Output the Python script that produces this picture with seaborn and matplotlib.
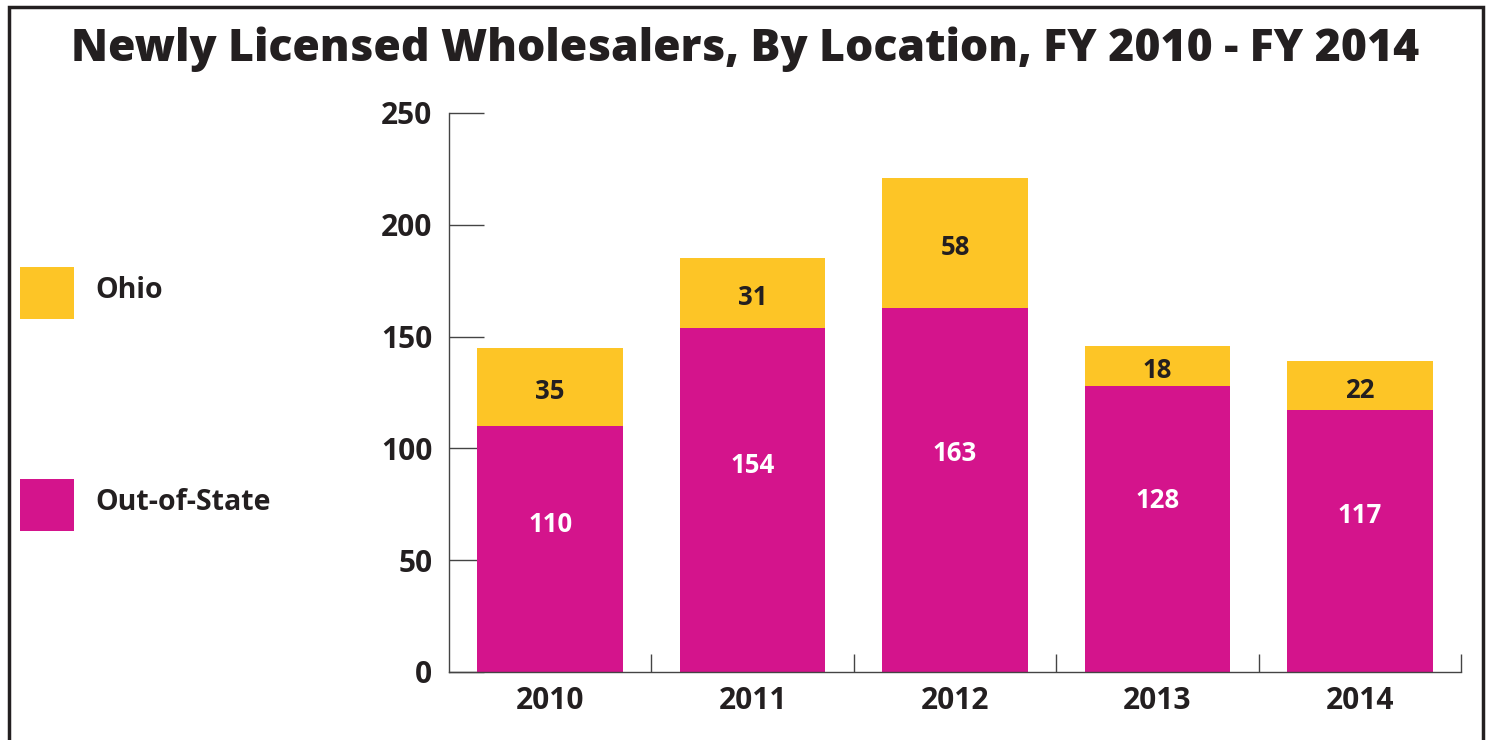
import matplotlib
matplotlib.use("Agg")
import matplotlib.pyplot as plt
from matplotlib.patches import Rectangle
import seaborn as sns
import pandas as pd

# Datos
years = ["2010", "2011", "2012", "2013", "2014"]
out_of_state = [110, 154, 163, 128, 117]
ohio = [35, 31, 58, 18, 22]

yellow = "#fdc526"
magenta = "#d4148c"
dark = "#231f20"

totals = [a + b for a, b in zip(out_of_state, ohio)]
df = pd.DataFrame({"Year": years, "Out-of-State": out_of_state,
                   "Ohio": ohio, "Total": totals})

sns.set_style("white")
plt.rcParams["font.family"] = ["Open Sans", "DejaVu Sans"]
plt.rcParams["font.weight"] = "bold"

fig = plt.figure(figsize=(14.91, 7.40), dpi=100)
ax = fig.add_axes([0.3011, 0.0919, 0.6788, 0.7554])

# barras apiladas: total (Ohio arriba) y luego fuera del estado
sns.barplot(data=df, x="Year", y="Total", color=yellow, width=0.72,
            saturation=1, linewidth=0, ax=ax)
sns.barplot(data=df, x="Year", y="Out-of-State", color=magenta, width=0.72,
            saturation=1, linewidth=0, ax=ax)

for i in range(len(years)):
    ax.text(i, out_of_state[i] * 0.6, str(out_of_state[i]), ha="center",
            va="center", color="white", fontsize=18.5, fontweight="bold")
    ax.text(i, out_of_state[i] + ohio[i] / 2 - 2, str(ohio[i]), ha="center",
            va="center", color=dark, fontsize=18.5, fontweight="bold")

ax.set_xlim(-0.5, len(years) - 0.5)
ax.set_ylim(0, 250)
ax.set_yticks([0, 50, 100, 150, 200, 250])
ax.set_xlabel("")
ax.set_ylabel("")
for s in ["top", "right"]:
    ax.spines[s].set_visible(False)
for s in ["left", "bottom"]:
    ax.spines[s].set_color("#444444")
    ax.spines[s].set_linewidth(1.0)

ax.tick_params(axis="y", left=True, direction="in", length=25, width=1,
               color="#444444", labelsize=21.5, labelcolor=dark, pad=12)
ax.tick_params(axis="x", which="major", bottom=True, length=0, labelsize=21.5,
               labelcolor=dark, pad=10)
ax.set_xticks([i + 0.5 for i in range(len(years))], minor=True)
ax.tick_params(axis="x", which="minor", bottom=True, direction="in",
               length=13, width=1, color="#444444")
for lab in ax.get_xticklabels() + ax.get_yticklabels():
    lab.set_fontweight("bold")

# leyenda manual a la izquierda
for (label, col, ytop) in [("Ohio", yellow, 267), ("Out-of-State", magenta, 479)]:
    fig.add_artist(Rectangle((20 / 1491, 1 - (ytop + 52) / 740), 54 / 1491,
                             52 / 740, transform=fig.transFigure,
                             facecolor=col, edgecolor="none"))
    fig.text(95 / 1491, 1 - (ytop + 24) / 740, label, ha="left", va="center",
             fontsize=20.5, fontweight="bold", color=dark)

# titulo
fig.text(0.5, 1 - 49 / 740, "Newly Licensed Wholesalers, By Location, FY 2010 - FY 2014",
         ha="center", va="center", fontsize=32, fontweight="heavy", color=dark)

# marco
fig.add_artist(Rectangle((9 / 1491, -0.05), 1474 / 1491, 1.05 - 7 / 740,
                         transform=fig.transFigure, facecolor="none",
                         edgecolor=dark, linewidth=2.5))

fig.savefig("out.png", dpi=100)
